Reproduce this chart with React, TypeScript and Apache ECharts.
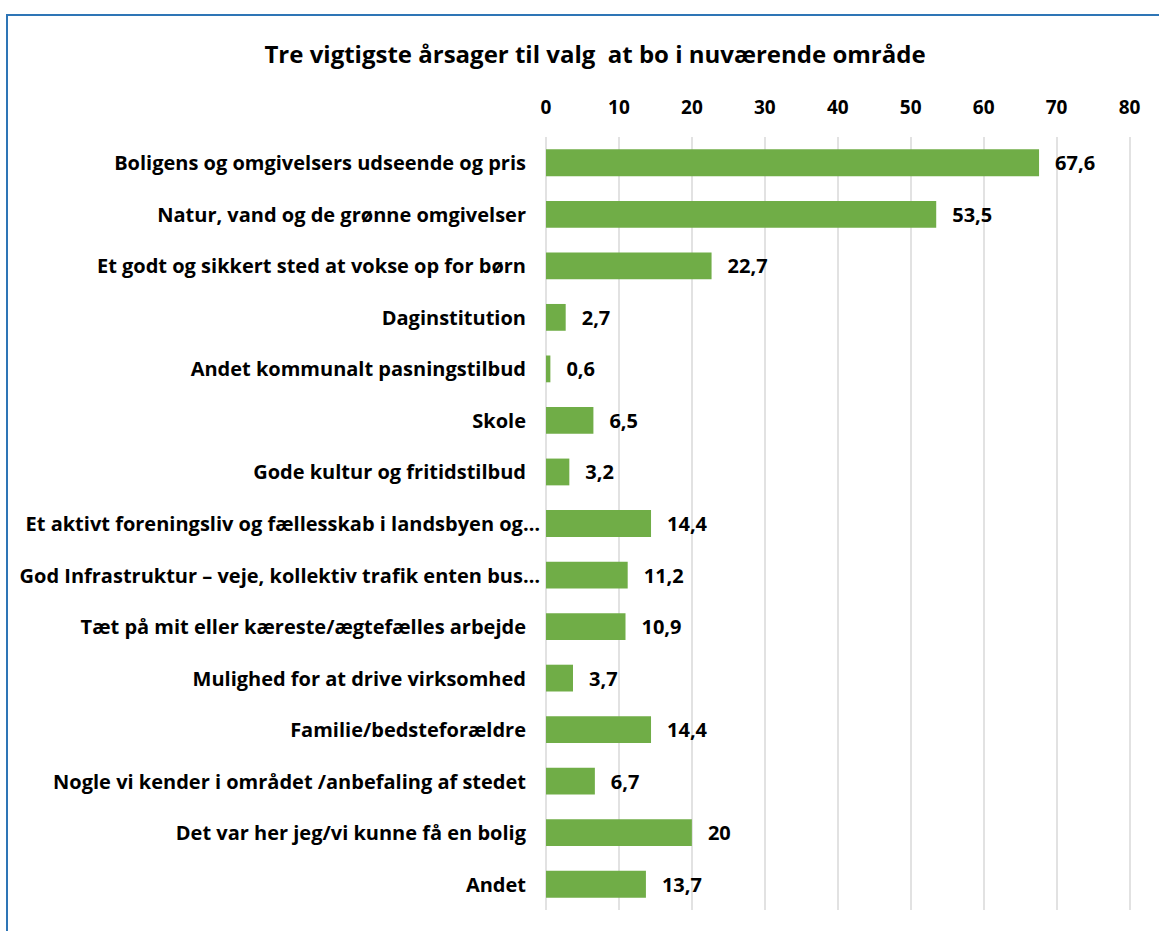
import React, { useEffect, useRef } from "react";
import * as echarts from "echarts";

const titleText = "Tre vigtigste årsager til valg  at bo i nuværende område";

const categories = [
  "Boligens og omgivelsers udseende og pris",
  "Natur, vand og de grønne omgivelser",
  "Et godt og sikkert sted at vokse op for børn",
  "Daginstitution",
  "Andet kommunalt pasningstilbud",
  "Skole",
  "Gode kultur og fritidstilbud",
  "Et aktivt foreningsliv og fællesskab i landsbyen og…",
  "God Infrastruktur – veje, kollektiv trafik enten bus…",
  "Tæt på mit eller kæreste/ægtefælles arbejde",
  "Mulighed for at drive virksomhed",
  "Familie/bedsteforældre",
  "Nogle vi kender i området /anbefaling af stedet",
  "Det var her jeg/vi kunne få en bolig",
  "Andet",
];

const values = [67.6, 53.5, 22.7, 2.7, 0.6, 6.5, 3.2, 14.4, 11.2, 10.9, 3.7, 14.4, 6.7, 20, 13.7];

const FONT = "Open Sans";

export default function App() {
  const ref = useRef<HTMLDivElement>(null);
  useEffect(() => {
    const chart = echarts.init(ref.current!, null, { renderer: "svg" });
    const labelStyle = { fontFamily: FONT, fontWeight: "bold", fontSize: 20, color: "#000" };
    chart.setOption({
      animation: false,
      backgroundColor: "#ffffff",
      title: {
        text: titleText,
        left: 590,
        textAlign: "center",
        top: 36,
        textStyle: { fontFamily: FONT, fontWeight: "bold", fontSize: 24, color: "#000" },
      },
      graphic: [
        {
          type: "rect",
          shape: { x: 7, y: 15, width: 1200, height: 1000 },
          style: { fill: "none", stroke: "#2E75B6", lineWidth: 2 },
          silent: true,
        },
      ],
      grid: { left: 546, right: 29.5, top: 137, bottom: 21 },
      xAxis: {
        type: "value",
        position: "top",
        min: 0,
        max: 80,
        interval: 10,
        axisLine: { show: false },
        axisTick: { show: false },
        splitLine: { show: true, lineStyle: { color: "#d9d9d9", width: 1.5 } },
        axisLabel: { margin: 21, fontFamily: FONT, fontWeight: "bold", fontSize: 19, color: "#000" },
      },
      yAxis: {
        type: "category",
        inverse: true,
        data: categories,
        axisLine: { show: false },
        axisTick: { show: false },
        axisLabel: {
          margin: 5,
          formatter: (v: string) => (v.endsWith("…") ? `{e|${v}}` : `{n|${v}}`),
          rich: {
            n: { ...labelStyle, padding: [0, 15, 0, 0] },
            e: { ...labelStyle, padding: [0, 1, 0, 0] },
          },
          ...labelStyle,
        },
      },
      series: [
        {
          type: "bar",
          data: values,
          barWidth: "52%",
          itemStyle: { color: "#70AD47" },
          label: {
            show: true,
            position: "right",
            distance: 16,
            ...labelStyle,
            formatter: (p: any) => String(p.value).replace(".", ","),
          },
        },
      ],
    });
    return () => chart.dispose();
  }, []);
  return <div ref={ref} style={{ position: "fixed", left: 0, top: 0, width: 1159, height: 931 }} />;
}
